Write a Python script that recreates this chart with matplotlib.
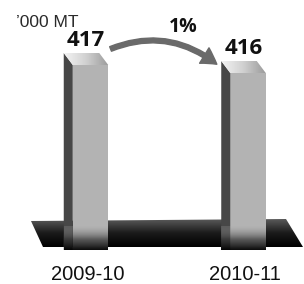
import numpy as np
import matplotlib
matplotlib.use("Agg")
import matplotlib.pyplot as plt
from matplotlib.patches import Polygon, FancyArrowPatch
from matplotlib.colors import LinearSegmentedColormap

# ---- data ----
categories = ["2009-10", "2010-11"]
values = [417, 416]
change_label = "1%"
unit_label = "\u2019000 MT"

W, H = 304, 284
fig = plt.figure(figsize=(W / 100, H / 100), dpi=100)
ax = fig.add_axes([0, 0, 1, 1])
ax.set_axis_off()

# layout: category spacing and value scale (style only)
c0_px, step_px = 90.5, 157.5      # pixel centre of first bar, pixel distance between bars
top_px, px_per_unit = 65, 8.0     # pixel row of first bar top, pixels per unit
xlim = (-c0_px / step_px, (W - c0_px) / step_px)
ylim = (values[0] - (H - top_px) / px_per_unit, values[0] + top_px / px_per_unit)
ax.set_xlim(*xlim)
ax.set_ylim(*ylim)

def px(x, r):
    """pixel (x from left, r from top) -> data coords"""
    return (xlim[0] + x / W * (xlim[1] - xlim[0]),
            ylim[1] - r / H * (ylim[1] - ylim[0]))

base = px(0, 250)[1]
bar_w = 35.5 / step_px
dx = -9 / step_px
dy = 12 / px_per_unit

def grad_fill(poly, cmap, direction="h", z=1):
    xs = poly.get_xy()[:, 0]; ys = poly.get_xy()[:, 1]
    if direction == "h":
        img = np.linspace(0, 1, 256).reshape(1, -1)
    else:
        img = np.linspace(0, 1, 256).reshape(-1, 1)
    im = ax.imshow(img, cmap=cmap, extent=(xs.min(), xs.max(), ys.min(), ys.max()),
                   origin="lower", aspect="auto", zorder=z, interpolation="bicubic")
    ax.add_patch(poly)
    poly.set_visible(False)
    im.set_clip_path(poly)
    return im

# floor
floor_pts = [px(31, 221), px(286, 219), px(303, 247), px(43, 247)]
floor = Polygon(floor_pts, closed=True, transform=ax.transData)
floor_cmap = LinearSegmentedColormap.from_list("fl", ["#000000", "#1a1a1a", "#5a5a5a"])
grad_fill(floor, floor_cmap, "v", z=1)

x = np.arange(len(categories))
bars = ax.bar(x, np.array(values) - base, bottom=base, width=bar_w,
              color="#b3b3b3", edgecolor="none", zorder=3)

top_cmap = LinearSegmentedColormap.from_list("tp", ["#f4f4f4", "#d0d0d0", "#9a9a9a"])
foot_cmap = LinearSegmentedColormap.from_list(
    "ft", [(0, (0, 0, 0, 0.95)), (0.45, (0.2, 0.2, 0.2, 0.7)), (1, (0.7, 0.7, 0.7, 0.2))])
for xi, v in zip(x, values):
    l, r = xi - bar_w / 2, xi + bar_w / 2
    side = Polygon([(l, base), (l, v), (l + dx, v + dy), (l + dx, base)], closed=True,
                   facecolor="#474747", edgecolor="none", zorder=3)
    ax.add_patch(side)
    top = Polygon([(l, v), (r, v), (r + dx, v + dy), (l + dx, v + dy)], closed=True)
    grad_fill(top, top_cmap, "h", z=3)
    # darkened foot of bar where it meets the floor
    foot_top = px(0, 226)[1]
    foot = Polygon([(l + dx, base), (r, base), (r, foot_top), (l + dx, foot_top)], closed=True)
    grad_fill(foot, foot_cmap, "v", z=4)
    ax.text(xi + dx / 2, v + dy + 0.3, f"{v}", ha="center", va="bottom",
            fontsize=16, fontweight="bold", color="#111111", zorder=5,
            family=["Open Sans", "DejaVu Sans"])
    ax.text(xi - 0.02, px(0, 280)[1], categories[xi], ha="center", va="baseline",
            fontsize=14.5, color="#111111", zorder=5,
            family=["Liberation Sans Narrow", "Liberation Sans", "DejaVu Sans"])

# change arrow
a0 = px(108, 50)
a1 = px(219, 66)
arrow = FancyArrowPatch(a0, a1, connectionstyle="arc3,rad=-0.3",
                        arrowstyle="simple,head_length=11,head_width=13,tail_width=3.5",
                        color="#6a6a6a", zorder=5, mutation_scale=1)
ax.add_patch(arrow)
ax.text(*px(183, 32), change_label, ha="center", va="baseline", fontsize=14,
        fontweight="bold", color="#111111", family=["Open Sans", "DejaVu Sans"])

ax.text(*px(16, 27), unit_label, ha="left", va="baseline", fontsize=12.5,
        color="#2a2a2a", family=["Liberation Sans Narrow", "Liberation Sans", "DejaVu Sans"])

fig.savefig("out.png", dpi=100)
